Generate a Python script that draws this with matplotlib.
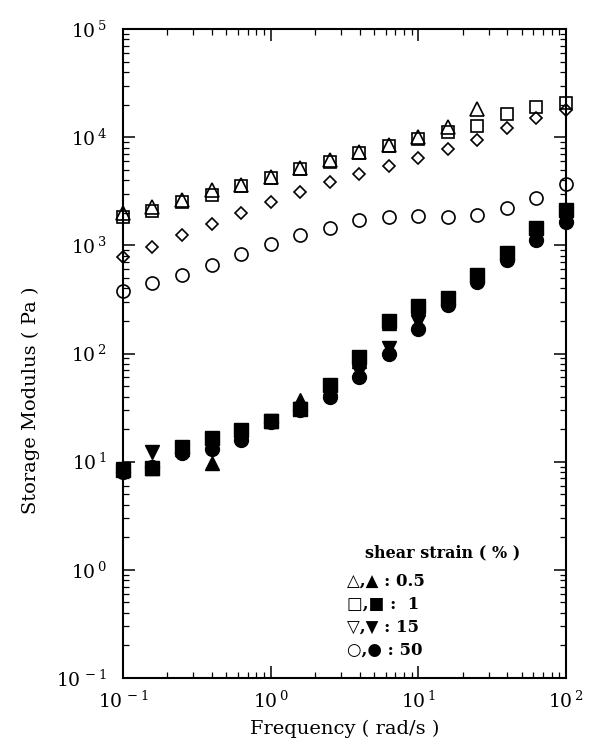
import matplotlib
matplotlib.use("Agg")
import matplotlib.pyplot as plt
import numpy as np
from matplotlib.ticker import FixedLocator, FuncFormatter, NullFormatter

plt.rcParams['font.family'] = ['DejaVu Serif', 'DejaVu Sans']
plt.rcParams['mathtext.fontset'] = 'dejavuserif'

# frequency (rad/s)
freq = [0.1, 0.158, 0.251, 0.398, 0.631, 1.0, 1.58, 2.51, 3.98, 6.31,
        10.0, 15.8, 25.1, 39.8, 63.1, 100.0]

# open symbols (upper group)
open_05 = [2000, 2260, 2625, 3250, 3600, 4250, 5150, 6100, 7340, 8470,
           10100, 12400, 18100]
open_1 = [1816, 2090, 2531, 2918, 3536, 4220, 5078, 5870, 7090, 8280,
          9560, 11240, 12800, 16440, 19130, 20560]
open_15 = [785, 971, 1247, 1575, 2003, 2500, 3090, 3810, 4566, 5450,
           6460, 7720, 9420, 12080, 14940, 17830]
open_50 = [381, 446, 532, 658, 832, 1023, 1247, 1450, 1715, 1827,
           1866, 1827, 1907, 2213, 2740, 3690]

# filled symbols (lower group)
fill_05 = [8.5, 8.7, 13.0, 9.8, 18.0, 24.0, 37.0, 48.0, 85.0, 190.0,
           265.0, 320.0, 520.0]
fill_1 = [8.4, 8.7, 13.7, 16.5, 19.8, 23.9, 31.0, 51.0, 92.0, 198.0,
          276.0, 326.0, 532.0, 850.0, 1446.0, 2120.0]
fill_15 = [8.6, 12.3, 12.5, 14.0, 17.0, 24.0, 31.0, 42.0, 67.5, 112.0,
           195.0, 290.0, 480.0, 760.0, 1180.0, 1750.0]
fill_50 = [8.0, 9.0, 11.9, 13.0, 16.0, 23.5, 30.0, 40.0, 61.0, 98.0,
           167.0, 281.0, 461.0, 731.0, 1120.0, 1643.0]

x_decades = [-1, 0, 1, 2]
y_decades = [-1, 0, 1, 2, 3, 4, 5]

legend_title = "shear strain ( % )"
legend_rows = ["\u25B3,\u25B2 : 0.5", "\u25A1,\u25A0 :  1",
               "\u25BD,\u25BC : 15", "\u25CB,\u25CF : 50"]

W, H = 592, 756
fig = plt.figure(figsize=(W / 100, H / 100), dpi=100)
ax = fig.add_axes([123 / W, 1 - 678 / H, (566 - 123) / W, (678 - 29) / H])
ax.set_xscale('log')
ax.set_yscale('log')

ms_open = 9.4
ms_fill = 10.0
ew = 1.2
kw = dict(linestyle='none', clip_on=False)

ax.plot(freq[:len(open_05)], open_05, marker='^', ms=ms_open, mfc='none',
        mec='black', mew=ew, **kw)
ax.plot(freq, open_1, marker='s', ms=ms_open - 0.4, mfc='none', mec='black',
        mew=ew, **kw)
ax.plot(freq, open_15, marker='D', ms=6.2, mfc='none', mec='black',
        mew=ew, **kw)
ax.plot(freq, open_50, marker='o', ms=ms_open, mfc='none', mec='black',
        mew=ew, **kw)

ax.plot(freq, fill_50, marker='o', ms=ms_fill, color='black', **kw)
ax.plot(freq, fill_15, marker='v', ms=ms_fill, color='black', **kw)
ax.plot(freq, fill_1, marker='s', ms=ms_fill - 0.5, color='black', **kw)
ax.plot(freq[:len(fill_05)], fill_05, marker='^', ms=ms_fill, color='black', **kw)

ax.set_xlim(10.0 ** x_decades[0], 10.0 ** x_decades[-1])
ax.set_ylim(10.0 ** y_decades[0], 10.0 ** y_decades[-1])

fmt = FuncFormatter(lambda v, p: r'$10^{\,%d}$' % int(round(np.log10(v))))
for axis, decs in ((ax.xaxis, x_decades), (ax.yaxis, y_decades)):
    majors = [10.0 ** d for d in decs]
    minors = [k * 10.0 ** d for d in decs[:-1] for k in range(2, 10)]
    axis.set_major_locator(FixedLocator(majors))
    axis.set_minor_locator(FixedLocator(minors))
    axis.set_major_formatter(fmt)
    axis.set_minor_formatter(NullFormatter())

ax.tick_params(which='both', direction='in', top=True, right=True, color='black')
ax.tick_params(which='major', length=8.5, width=1.1)
ax.tick_params(which='minor', length=4.3, width=0.9)
ax.tick_params(axis='x', which='major', labelsize=13.5, pad=9)
ax.tick_params(axis='y', which='major', labelsize=13.5, pad=12)
for s in ax.spines.values():
    s.set_linewidth(1.5)

ax.set_xlabel("Frequency ( rad/s )", fontsize=14, labelpad=6)
ax.set_ylabel("Storage Modulus ( Pa )", fontsize=14)
ax.yaxis.set_label_coords((40 - 123) / 443, (678 - 400) / 649)

fig.text(365 / W, 1 - 553 / H, legend_title, fontsize=11.5, fontweight='bold',
         va='center', ha='left')
for i, row in enumerate(legend_rows):
    fig.text(347 / W, 1 - (581 + 23 * i) / H, row, fontsize=12,
             fontweight='bold', va='center', ha='left')

fig.savefig("out.png", dpi=100)
